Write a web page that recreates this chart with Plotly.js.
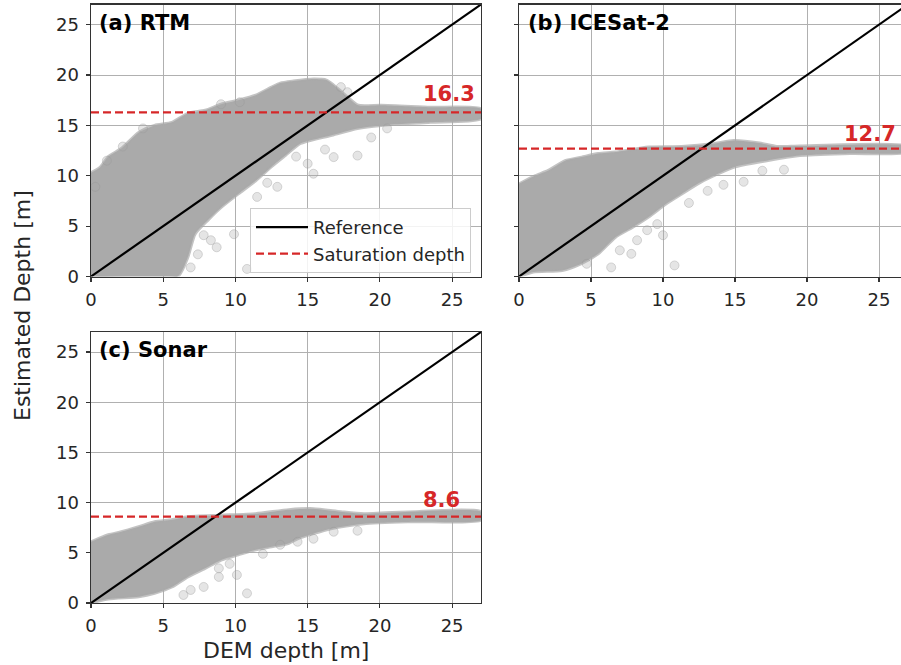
<!DOCTYPE html>
<html>
<head>
<meta charset="utf-8">
<script src="https://cdn.plot.ly/plotly-3.0.1.min.js"></script>
<style>html,body{margin:0;padding:0;background:#fff;}#chart{width:901px;height:665px;}</style>
</head>
<body>
<div id="chart"></div>
<script>
// ---- data ----
const panelNames = ["(a) RTM", "(b) ICESat-2", "(c) Sonar"];
const satDepth = [16.3, 12.7, 8.6];
const refLineX = [0, 27];
const refLineY = [0, 27];

// point-cloud envelopes (upper / lower edges of the dense gray cloud)
const rtmUpperX = [0, 0.6, 1.2, 2.1, 3.3, 4.4, 5.6, 6.7, 7.9, 9.0, 10.2, 11.4, 12.5, 13.1, 14.0, 15.4, 16.3, 16.8, 17.3, 17.7, 18.5, 20.1, 23.5, 27];
const rtmUpperY = [10.3, 10.8, 11.9, 12.7, 14.3, 15.0, 15.3, 16.2, 16.5, 17.1, 17.5, 18.0, 18.8, 19.2, 19.4, 19.6, 19.5, 19.0, 18.4, 17.9, 17.0, 17.0, 16.8, 16.65];
const rtmLowerX = [0, 6.0, 6.7, 7.2, 8.1, 9.05, 10.2, 11.4, 12.5, 13.45, 14.5, 16.6, 18.45, 20.1, 23.5, 27];
const rtmLowerY = [0, 0, 1.9, 4.2, 5.6, 6.9, 8.2, 9.5, 10.9, 12.0, 13.2, 14.0, 14.7, 15.0, 15.3, 15.65];
const rtmOutX = [10.8, 8.7, 9.9, 7.8, 15.4, 18.45, 16.8, 15.0, 19.4, 20.5, 6.9, 11.5, 12.9, 9.0, 3.6, 1.1, 10.3, 17.3, 17.75, 8.3, 7.4, 12.2, 14.2, 16.2, 2.2, 0.3];
const rtmOutY = [0.75, 2.9, 4.2, 4.1, 10.2, 12.0, 11.85, 11.2, 13.8, 14.7, 0.9, 7.9, 8.9, 17.1, 14.7, 11.5, 17.3, 18.8, 18.3, 3.6, 2.2, 9.3, 11.9, 12.6, 12.9, 8.9];

const iceUpperX = [0, 1.1, 2.0, 3.2, 4.35, 5.5, 6.7, 9.0, 11.3, 13.6, 14.9, 16.7, 17.9, 19.5, 27];
const iceUpperY = [9.2, 10.0, 10.5, 11.5, 11.85, 12.2, 12.35, 12.85, 12.9, 13.2, 13.5, 13.25, 12.9, 12.95, 12.95];
const iceLowerX = [0, 1.0, 3.0, 4.3, 5.5, 6.7, 7.9, 9.0, 10.2, 11.3, 12.6, 14.9, 17.2, 19.5, 23, 27];
const iceLowerY = [0, 0.45, 0.6, 1.25, 2.25, 3.9, 4.9, 5.9, 7.2, 8.2, 9.35, 10.85, 11.5, 12.0, 12.2, 12.35];
const iceOutX = [10.8, 6.4, 8.9, 10.0, 7.8, 13.1, 15.6, 18.4, 16.9, 7.0, 4.7, 8.2, 9.6, 11.8, 14.2];
const iceOutY = [1.1, 0.9, 4.6, 4.1, 2.25, 8.5, 9.4, 10.6, 10.5, 2.6, 1.26, 3.6, 5.2, 7.3, 9.1];

const sonUpperX = [0, 1.2, 2.1, 3.3, 4.4, 5.6, 6.7, 9.05, 11.4, 13.7, 15.4, 17.3, 18.9, 27];
const sonUpperY = [6.1, 6.8, 7.1, 7.6, 8.1, 8.3, 8.6, 8.75, 8.9, 9.3, 9.4, 9.1, 8.9, 9.1];
const sonLowerX = [0, 1.2, 3.3, 4.4, 5.6, 6.7, 7.9, 9.05, 10.2, 11.4, 12.5, 13.7, 14.3, 16.6, 18.9, 22.3, 27];
const sonLowerY = [0, 0.4, 0.63, 0.97, 1.6, 2.6, 3.45, 4.3, 4.8, 5.3, 5.6, 5.95, 6.4, 7.4, 7.9, 8.1, 8.25];
const sonOutX = [10.8, 6.4, 8.85, 10.1, 7.8, 13.1, 15.4, 18.45, 16.8, 8.85, 6.9, 9.6, 11.9, 14.3];
const sonOutY = [0.96, 0.8, 2.6, 2.8, 1.6, 5.8, 6.4, 7.2, 7.1, 3.45, 1.3, 3.9, 4.9, 6.1];

const tickVals = [0, 5, 10, 15, 20, 25];

// ---- build ----
const W = 901, H = 665;
const FONT = "DejaVu Sans";
const ink = "#262626";
const px = v => v / W;
const py = v => (H - v) / H;

const clouds = [
  {ux: rtmUpperX, uy: rtmUpperY, lx: rtmLowerX, ly: rtmLowerY, ox: rtmOutX, oy: rtmOutY},
  {ux: iceUpperX, uy: iceUpperY, lx: iceLowerX, ly: iceLowerY, ox: iceOutX, oy: iceOutY},
  {ux: sonUpperX, uy: sonUpperY, lx: sonLowerX, ly: sonLowerY, ox: sonOutX, oy: sonOutY}
];
const axSuffix = ["", "2", "3"];

const traces = [];
clouds.forEach((c, i) => {
  const xa = "x" + axSuffix[i], ya = "y" + axSuffix[i];
  const polyX = c.ux.concat(c.lx.slice().reverse());
  const polyY = c.uy.concat(c.ly.slice().reverse());
  traces.push({
    x: polyX, y: polyY, xaxis: xa, yaxis: ya, type: "scatter", mode: "lines",
    fill: "toself", fillcolor: "#aaaaaa",
    line: {color: "rgba(170,170,170,0.7)", width: 3, shape: "spline", smoothing: 0.6},
    showlegend: false, hoverinfo: "skip"
  });
  traces.push({
    x: c.ox, y: c.oy, xaxis: xa, yaxis: ya, type: "scatter", mode: "markers",
    marker: {size: 9, color: "rgba(170,170,170,0.3)", line: {color: "rgba(150,150,150,0.35)", width: 1}},
    showlegend: false, hoverinfo: "skip"
  });
  traces.push({
    x: refLineX, y: refLineY, xaxis: xa, yaxis: ya, type: "scatter", mode: "lines",
    line: {color: "#000000", width: 2.2}, name: "Reference", showlegend: i === 0
  });
  traces.push({
    x: refLineX, y: [satDepth[i], satDepth[i]], xaxis: xa, yaxis: ya, type: "scatter", mode: "lines",
    line: {color: "#d62728", width: 2.2, dash: "8px,4px"}, name: "Saturation depth", showlegend: i === 0
  });
});

function axis(extra) {
  return Object.assign({
    range: [0, 27], tickvals: tickVals, showgrid: true, gridcolor: "#b0b0b0", gridwidth: 1,
    zeroline: false, showline: true, linecolor: "#333333", linewidth: 1.4, mirror: true,
    ticks: "outside", ticklen: 4, tickwidth: 1.2, tickcolor: "#333333",
    tickfont: {family: FONT, size: 18, color: ink}, fixedrange: true
  }, extra);
}

const xDomA = [px(91), px(481)];
const xDomB = [px(519), 1];
const yDomTop = [py(276.5), py(4.5)];
const yDomBot = [py(603), py(332)];

const layout = {
  width: W, height: H,
  margin: {l: 0, r: 0, t: 0, b: 0},
  paper_bgcolor: "#ffffff", plot_bgcolor: "#ffffff",
  font: {family: FONT, color: ink},
  xaxis: axis({domain: xDomA, anchor: "y", ticklabelstandoff: 2}),
  yaxis: axis({domain: yDomTop, anchor: "x", ticklabelstandoff: 3}),
  xaxis2: axis({domain: xDomB, anchor: "y2", range: [0, (901 - 519) / 14.4], ticklabelstandoff: 2}),
  yaxis2: axis({domain: yDomTop, anchor: "x2", showticklabels: false, mirror: false}),
  xaxis3: axis({domain: xDomA, anchor: "y3", ticklabelstandoff: 2}),
  yaxis3: axis({domain: yDomBot, anchor: "x3", ticklabelstandoff: 3}),
  showlegend: true,
  legend: {
    x: px(471), xanchor: "right", y: py(273), yanchor: "bottom",
    bgcolor: "rgba(255,255,255,0.85)", bordercolor: "#cccccc", borderwidth: 1,
    font: {family: FONT, size: 18, color: ink}, tracegroupgap: 0, itemwidth: 52
  },
  annotations: [
    {text: panelNames[0], xref: "paper", yref: "paper", x: px(97), y: py(23), xanchor: "left", yanchor: "middle", showarrow: false,
     font: {family: FONT, size: 21, weight: "bold", color: "#000"}},
    {text: panelNames[1], xref: "paper", yref: "paper", x: px(526), y: py(23), xanchor: "left", yanchor: "middle", showarrow: false,
     font: {family: FONT, size: 21, weight: "bold", color: "#000"}},
    {text: panelNames[2], xref: "paper", yref: "paper", x: px(97), y: py(350), xanchor: "left", yanchor: "middle", showarrow: false,
     font: {family: FONT, size: 21, weight: "bold", color: "#000"}},
    {text: satDepth[0].toFixed(1), xref: "x", yref: "y", x: 26.75, y: satDepth[0] + 1.8, xanchor: "right", yanchor: "middle", showarrow: false,
     font: {family: FONT, size: 21, weight: "bold", color: "#d62728"}},
    {text: satDepth[1].toFixed(1), xref: "x2", yref: "y2", x: 26.3, y: satDepth[1] + 1.45, xanchor: "right", yanchor: "middle", showarrow: false,
     font: {family: FONT, size: 21, weight: "bold", color: "#d62728"}},
    {text: satDepth[2].toFixed(1), xref: "x3", yref: "y3", x: 25.7, y: satDepth[2] + 1.65, xanchor: "right", yanchor: "middle", showarrow: false,
     font: {family: FONT, size: 21, weight: "bold", color: "#d62728"}},
    {text: "Estimated Depth [m]", xref: "paper", yref: "paper", x: px(22), y: py(306), textangle: -90, xanchor: "center", yanchor: "middle", showarrow: false,
     font: {family: FONT, size: 22, color: ink}},
    {text: "DEM depth [m]", xref: "paper", yref: "paper", x: px(286), y: py(650), xanchor: "center", yanchor: "middle", showarrow: false,
     font: {family: FONT, size: 22, color: ink}}
  ]
};

Plotly.newPlot("chart", traces, layout, {staticPlot: true, displayModeBar: false});
</script>
</body>
</html>
